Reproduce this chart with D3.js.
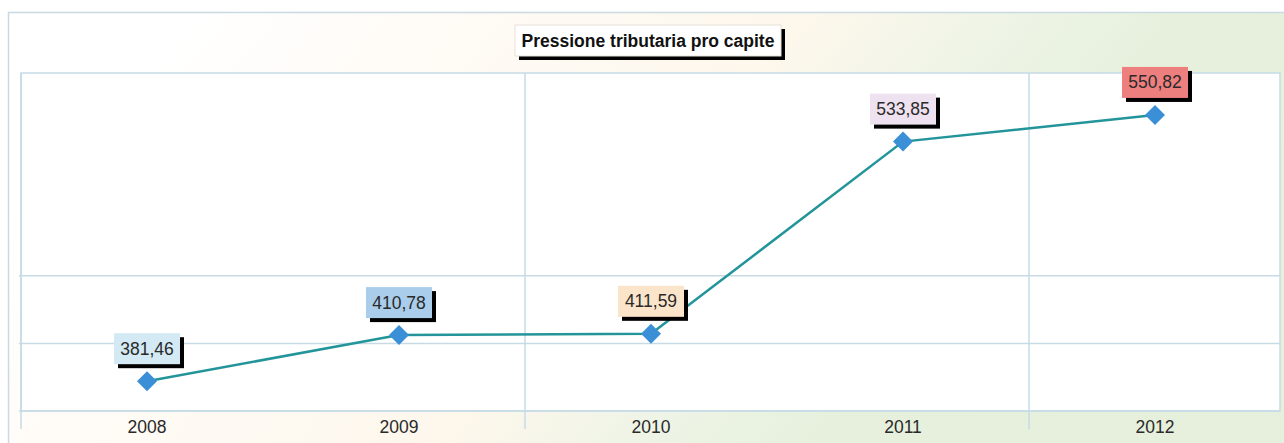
<!DOCTYPE html>
<html><head><meta charset="utf-8">
<script src="https://cdn.jsdelivr.net/npm/d3@7"></script>
<style>html,body{margin:0;padding:0;background:#fff;}svg{display:block;font-family:"Liberation Sans",Arial,sans-serif;}</style>
</head><body>
<script>
const title = "Pressione tributaria pro capite";
const years = ["2008","2009","2010","2011","2012"];
const values = [381.46, 410.78, 411.59, 533.85, 550.82];
const valueLabels = ["381,46","410,78","411,59","533,85","550,82"];
const labelColors = ["#d3e9f3","#a9cdea","#fae5ca","#efe2f0","#ee7f7f"];
const yDomain = [362.5, 577.5];
const yGrid = [405.5, 448.5];
const xGridYears = ["2008","2010","2012"];

const W = 1284, H = 443;
const svg = d3.select("body").append("svg").attr("width", W).attr("height", H);
const defs = svg.append("defs");
const grad = defs.append("linearGradient").attr("id","bg").attr("gradientUnits","userSpaceOnUse")
  .attr("x1",200).attr("y1",0).attr("x2",1200).attr("y2",860);
[["0%","#ffffff"],["15%","#fffbf6"],["36%","#fdf7ec"],["47%","#eef4e6"],["58%","#e6f0dc"],["100%","#e5efdb"]]
  .forEach(([o,c]) => grad.append("stop").attr("offset",o).attr("stop-color",c));

// outer frame
svg.append("rect").attr("x",8.5).attr("y",12.5).attr("width",W).attr("height",H)
  .attr("fill","url(#bg)").attr("stroke","#c9d9e2").attr("stroke-width",1.5);

const m = {left:21, right:1280, top:73, bottom:411};
const x = d3.scaleBand().domain(years).range([m.left, 1281]);
const y = d3.scaleLinear().domain(yDomain).range([m.bottom, m.top]);
const cx = d => x(d) + x.bandwidth()/2;

// plot area
svg.append("rect").attr("x",m.left).attr("y",m.top).attr("width",m.right-m.left).attr("height",m.bottom-m.top)
  .attr("fill","#ffffff").attr("stroke","#c6dbe6").attr("stroke-width",1.5);

// horizontal gridlines
svg.append("g").selectAll("line").data(yGrid).join("line")
  .attr("x1",m.left-2).attr("x2",m.right).attr("y1",d=>y(d)).attr("y2",d=>y(d))
  .attr("stroke","#c6dbe6").attr("stroke-width",1.5);

// vertical gridlines with ticks below axis
svg.append("g").selectAll("line").data(xGridYears).join("line")
  .attr("x1",d=>x(d)).attr("x2",d=>x(d)).attr("y1",m.top).attr("y2",m.bottom+18)
  .attr("stroke","#c6dbe6").attr("stroke-width",1.5);

// bottom axis line
svg.append("line").attr("x1",m.left-2).attr("x2",m.right).attr("y1",m.bottom).attr("y2",m.bottom)
  .attr("stroke","#c6dbe6").attr("stroke-width",1.5);

// x labels
svg.append("g").selectAll("text").data(years).join("text")
  .attr("x",d=>cx(d)).attr("y",433).attr("text-anchor","middle")
  .attr("font-size",17.5).attr("fill","#2a2a2a").text(d=>d);

// line
const data = years.map((yr,i)=>({yr, v:values[i], lab:valueLabels[i], col:labelColors[i]}));
svg.append("path").datum(data)
  .attr("d", d3.line().x(d=>cx(d.yr)).y(d=>y(d.v)))
  .attr("fill","none").attr("stroke","#23959a").attr("stroke-width",2.5);

// markers (diamonds)
svg.append("g").selectAll("path").data(data).join("path")
  .attr("d", d3.symbol().type(d3.symbolSquare).size(200))
  .attr("transform", d=>`translate(${cx(d.yr)},${y(d.v)}) rotate(45)`)
  .attr("fill","#3a8fd6");

// value labels
const bw = 66, bh = 31;
const lg = svg.append("g").selectAll("g").data(data).join("g")
  .attr("transform", d=>`translate(${cx(d.yr)-bw/2},${y(d.v)-17-bh})`);
lg.append("rect").attr("x",4).attr("y",4).attr("width",bw).attr("height",bh).attr("fill","#000");
lg.append("rect").attr("x",0).attr("y",0).attr("width",bw).attr("height",bh).attr("fill",d=>d.col);
lg.append("text").attr("x",bw/2).attr("y",bh/2+6).attr("text-anchor","middle")
  .attr("font-size",17.5).attr("fill","#2a2a2a").text(d=>d.lab);

// title box
const tg = svg.append("g").attr("transform","translate(515,25)");
const tw = 266, th = 31;
tg.append("rect").attr("x",4).attr("y",4).attr("width",tw).attr("height",th).attr("fill","#000");
tg.append("rect").attr("x",0).attr("y",0).attr("width",tw).attr("height",th).attr("fill","#ffffff").attr("stroke","#e8e0d8");
tg.append("text").attr("x",tw/2).attr("y",th/2+6).attr("text-anchor","middle")
  .attr("font-size",17.5).attr("font-weight","bold").attr("fill","#111").text(title);
</script>
</body></html>
